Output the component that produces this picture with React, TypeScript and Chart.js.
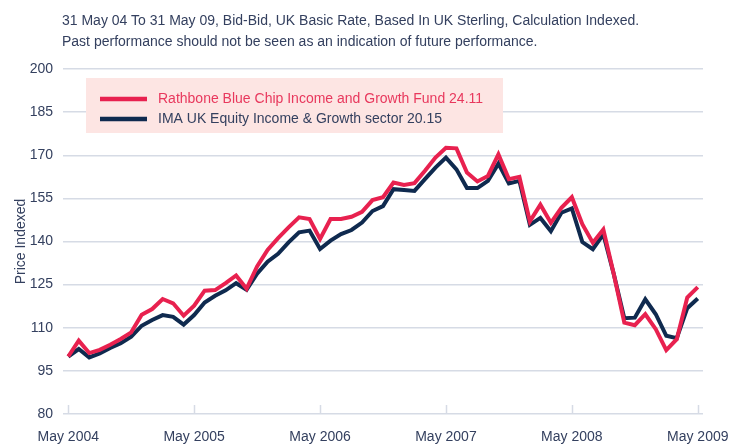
import React, { useEffect, useRef } from "react";
import { Chart, registerables } from "chart.js";

Chart.register(...registerables);

// Monthly index values, May 2004 (index 0) to May 2009 (index 60)
const fundValues = [
  100, 105.5, 101.2, 102.3, 104.1, 106.1, 108.4, 114.5, 116.5, 120, 118.5, 114.2,
  117.7, 122.9, 123.1, 125.5, 128.2, 123.6, 131.3, 137.1, 141.2, 144.9, 148.4, 147.8,
  140.9, 147.8, 147.8, 148.6, 150.3, 154.4, 155.4, 160.5, 159.7, 160.3, 164.6, 169.2,
  172.6, 172.4, 164, 160.9, 162.8, 170.3, 161.7, 162.5, 147, 152.8, 146.5, 151.7,
  155.4, 146, 139.6, 144.2, 128.6, 111.8, 110.9, 114.7, 109.5, 102.2, 106, 120.5,
  124.11,
];
const sectorValues = [
  100, 102.6, 99.7, 101.1, 103, 104.6, 106.9, 110.7, 112.7, 114.4, 113.8, 111.1,
  114.4, 118.8, 121.1, 123, 125.5, 123.2, 128.8, 133, 135.7, 139.7, 143.2, 143.8,
  137.4, 140.3, 142.6, 144, 146.6, 150.6, 152.3, 158.2, 157.9, 157.6, 161.7, 165.7,
  169.2, 165.1, 158.6, 158.6, 161.1, 167.1, 160.2, 161.1, 145.8, 148.2, 143.6, 150,
  151.5, 139.8, 137.3, 142.5, 128.6, 113.3, 113.5, 119.9, 114.7, 107.2, 106.4, 116.8,
  120.15,
];
const yearTickIndex = [0, 12, 24, 36, 48, 60];
const yearTickLabels = ["May 2004", "May 2005", "May 2006", "May 2007", "May 2008", "May 2009"];
const seriesLabels = [
  "Rathbone Blue Chip Income and Growth Fund 24.11",
  "IMA UK Equity Income & Growth sector 20.15",
];
const titleLines = [
  "31 May 04 To 31 May 09, Bid-Bid, UK Basic Rate, Based In UK Sterling, Calculation Indexed.",
  "Past performance should not be seen as an indication of future performance.",
];

const RED = "#e8214f";
const NAVY = "#0f2a4f";
const TEXT = "#34405f";
const GRID = "#d6dbe5";
const FONT = "'Liberation Sans', Arial, sans-serif";

const legendPlugin = {
  id: "boxLegend",
  afterDatasetsDraw(chart: any) {
    const ctx = chart.ctx;
    ctx.save();
    ctx.fillStyle = "#fde5e3";
    ctx.fillRect(86, 78, 417, 55);
    const textColors = ["#e8385d", TEXT];
    chart.data.datasets.forEach((ds: any, i: number) => {
      const y = 99 + i * 20;
      ctx.strokeStyle = ds.borderColor;
      ctx.lineWidth = 4.5;
      ctx.beginPath();
      ctx.moveTo(100, y);
      ctx.lineTo(147, y);
      ctx.stroke();
      ctx.fillStyle = textColors[i];
      ctx.font = `14px ${FONT}`;
      ctx.textBaseline = "middle";
      ctx.textAlign = "left";
      ctx.fillText(ds.label, 158, y);
    });
    ctx.restore();
  },
};

const tickMarkPlugin = {
  id: "yearTickMarks",
  afterDraw(chart: any) {
    const ctx = chart.ctx;
    const xs = chart.scales.x;
    const bottom = chart.chartArea.bottom;
    ctx.save();
    ctx.strokeStyle = GRID;
    ctx.lineWidth = 1.5;
    yearTickIndex.forEach((v) => {
      const x = Math.round(xs.getPixelForValue(v)) + 0.5;
      ctx.beginPath();
      ctx.moveTo(x, bottom - 9);
      ctx.lineTo(x, bottom);
      ctx.stroke();
    });
    ctx.restore();
  },
};

export default function App() {
  const canvasRef = useRef<HTMLCanvasElement | null>(null);

  useEffect(() => {
    document.body.style.margin = "0";
    const canvas = canvasRef.current;
    if (!canvas) return;
    const chart = new Chart(canvas, {
      type: "line",
      data: {
        datasets: [
          {
            label: seriesLabels[0],
            data: fundValues.map((v, i) => ({ x: i, y: v })),
            borderColor: RED,
            borderWidth: 4,
            pointRadius: 0,
            tension: 0,
          },
          {
            label: seriesLabels[1],
            data: sectorValues.map((v, i) => ({ x: i, y: v })),
            borderColor: NAVY,
            borderWidth: 4,
            pointRadius: 0,
            tension: 0,
          },
        ],
      },
      options: {
        responsive: false,
        animation: false,
        devicePixelRatio: 1,
        layout: { padding: { top: 69, right: 26, left: 0, bottom: 0 } },
        plugins: {
          legend: { display: false },
          tooltip: { enabled: false },
          title: { display: false },
        },
        scales: {
          x: {
            type: "linear",
            min: -0.5,
            max: 60.5,
            grid: { display: false, drawTicks: false },
            border: { display: false },
            afterBuildTicks: (scale: any) => {
              scale.ticks = yearTickIndex.map((v) => ({ value: v }));
            },
            afterFit: (scale: any) => {
              scale.height = 31;
              scale.paddingLeft = 0;
              scale.paddingRight = 0;
            },
            ticks: {
              autoSkip: false,
              maxRotation: 0,
              padding: 15,
              color: TEXT,
              font: { family: FONT, size: 14 },
              callback: (value: any) => {
                const idx = yearTickIndex.indexOf(Number(value));
                return idx >= 0 ? yearTickLabels[idx] : "";
              },
            },
          },
          y: {
            min: 80,
            max: 200,
            grid: { color: GRID, lineWidth: 1.5, drawTicks: false },
            border: { display: false },
            afterFit: (scale: any) => {
              scale.width = 63;
              scale.paddingTop = 0;
              scale.paddingBottom = 0;
            },
            ticks: {
              stepSize: 15,
              padding: 10,
              color: TEXT,
              font: { family: FONT, size: 14 },
            },
            title: {
              display: true,
              text: "Price Indexed",
              color: TEXT,
              font: { family: FONT, size: 14 },
              padding: { top: 13, bottom: 0 },
            },
          },
        },
      },
      plugins: [legendPlugin, tickMarkPlugin],
    } as any);
    return () => chart.destroy();
  }, []);

  return (
    <div style={{ position: "fixed", left: 0, top: 0, width: 729, height: 445, background: "#fff" }}>
      <div
        style={{
          position: "absolute",
          left: 62,
          top: 10,
          fontFamily: FONT,
          fontSize: 14,
          lineHeight: "21px",
          color: TEXT,
          whiteSpace: "nowrap",
        }}
      >
        {titleLines.map((t) => (
          <div key={t}>{t}</div>
        ))}
      </div>
      <canvas ref={canvasRef} width={729} height={445} style={{ display: "block" }} />
    </div>
  );
}
